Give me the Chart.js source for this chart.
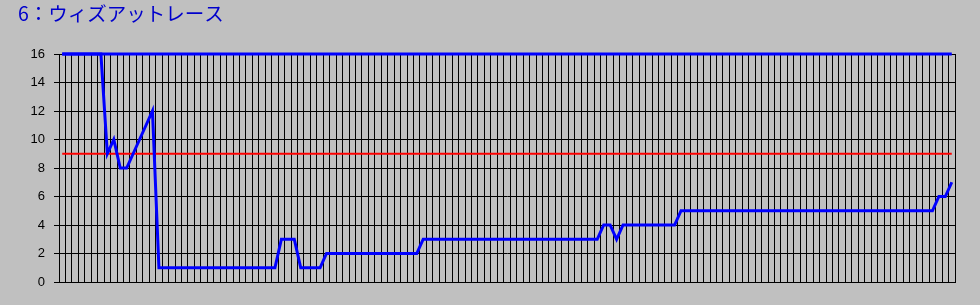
<!DOCTYPE html>
<html>
<head>
<meta charset="utf-8">
<script src="https://cdn.jsdelivr.net/npm/chart.js@4/dist/chart.umd.min.js"></script>
<style>
html,body{margin:0;padding:0;background:#C0C0C0;}
#wrap{width:980px;height:305px;position:relative;}
</style>
</head>
<body>
<div id="wrap"><canvas id="c" width="980" height="305"></canvas></div>
<script>
const titleText = "6：ウィズアットレース";
const yTicks = [0, 2, 4, 6, 8, 10, 12, 14, 16];
const position = [
  16,16,16,16,16,16,16,
  9,10,8,8,9,10,11,12,
  1,1,1,1,1,1,1,1,1,1,1,1,1,1,1,1,1,1,1,
  3,3,3,
  1,1,1,1,
  2,2,2,2,2,2,2,2,2,2,2,2,2,2,2,
  3,3,3,3,3,3,3,3,3,3,3,3,3,3,3,3,3,3,3,3,3,3,3,3,3,3,3,3,
  4,4,3,
  4,4,4,4,4,4,4,4,4,
  5,5,5,5,5,5,5,5,5,5,5,5,5,5,5,5,5,5,5,5,5,5,5,5,5,5,5,5,5,5,5,5,5,5,5,5,5,5,5,5,
  6,6,7
];
const fieldSize = [
  16,16,16,16,16,16,16,16,16,16,16,16,16,16,16,16,16,16,16,16,
  16,16,16,16,16,16,16,16,16,16,16,16,16,16,16,16,16,16,16,16,
  16,16,16,16,16,16,16,16,16,16,16,16,16,16,16,16,16,16,16,16,
  16,16,16,16,16,16,16,16,16,16,16,16,16,16,16,16,16,16,16,16,
  16,16,16,16,16,16,16,16,16,16,16,16,16,16,16,16,16,16,16,16,
  16,16,16,16,16,16,16,16,16,16,16,16,16,16,16,16,16,16,16,16,
  16,16,16,16,16,16,16,16,16,16,16,16,16,16,16,16,16,16,16
];
const midLine = [
  9,9,9,9,9,9,9,9,9,9,9,9,9,9,9,9,9,9,9,9,
  9,9,9,9,9,9,9,9,9,9,9,9,9,9,9,9,9,9,9,9,
  9,9,9,9,9,9,9,9,9,9,9,9,9,9,9,9,9,9,9,9,
  9,9,9,9,9,9,9,9,9,9,9,9,9,9,9,9,9,9,9,9,
  9,9,9,9,9,9,9,9,9,9,9,9,9,9,9,9,9,9,9,9,
  9,9,9,9,9,9,9,9,9,9,9,9,9,9,9,9,9,9,9,9,
  9,9,9,9,9,9,9,9,9,9,9,9,9,9,9,9,9,9,9
];
const categories = position.map((_, i) => String(i + 1));

new Chart(document.getElementById('c'), {
  type: 'line',
  data: {
    labels: categories,
    datasets: [
      { data: position, borderColor: '#0000FF', borderWidth: 3, pointRadius: 0, tension: 0, clip: false, order: 0 },
      { data: midLine, borderColor: '#FF0000', borderWidth: 2, pointRadius: 0, tension: 0, clip: false, order: 2 },
      { data: fieldSize, borderColor: '#0000FF', borderWidth: 3, pointRadius: 0, tension: 0, clip: false, order: 1 }
    ]
  },
  options: {
    responsive: false,
    animation: false,
    events: [],
    layout: { padding: { left: 18, right: 25, top: 0, bottom: 23 } },
    plugins: {
      legend: { display: false },
      tooltip: { enabled: false },
      title: {
        display: true,
        text: titleText,
        align: 'start',
        color: '#0000CC',
        font: { family: '"Noto Sans CJK JP", sans-serif', size: 19.5, weight: 'normal', lineHeight: 1.2 },
        padding: { top: 2, bottom: 28.6 }
      }
    },
    scales: {
      x: {
        type: 'category',
        offset: true,
        grid: { display: true, offset: true, color: '#000000', lineWidth: 1, drawTicks: false },
        border: { display: true, color: '#000000', width: 1 },
        ticks: { display: false, autoSkip: false },
        afterFit: s => { s.height = 0; }
      },
      y: {
        min: 0, max: 16,
        afterBuildTicks: s => { s.ticks = yTicks.map(v => ({ value: v })); },
        grid: { color: '#000000', lineWidth: 1, drawTicks: true, tickLength: 5, tickColor: '#000000' },
        border: { display: true, color: '#000000', width: 1 },
        ticks: { color: '#000000', padding: 9, font: { family: '"Liberation Sans", Arial, sans-serif', size: 13 } },
        afterFit: s => { s.width = 41; }
      }
    }
  }
});
</script>
</body>
</html>
